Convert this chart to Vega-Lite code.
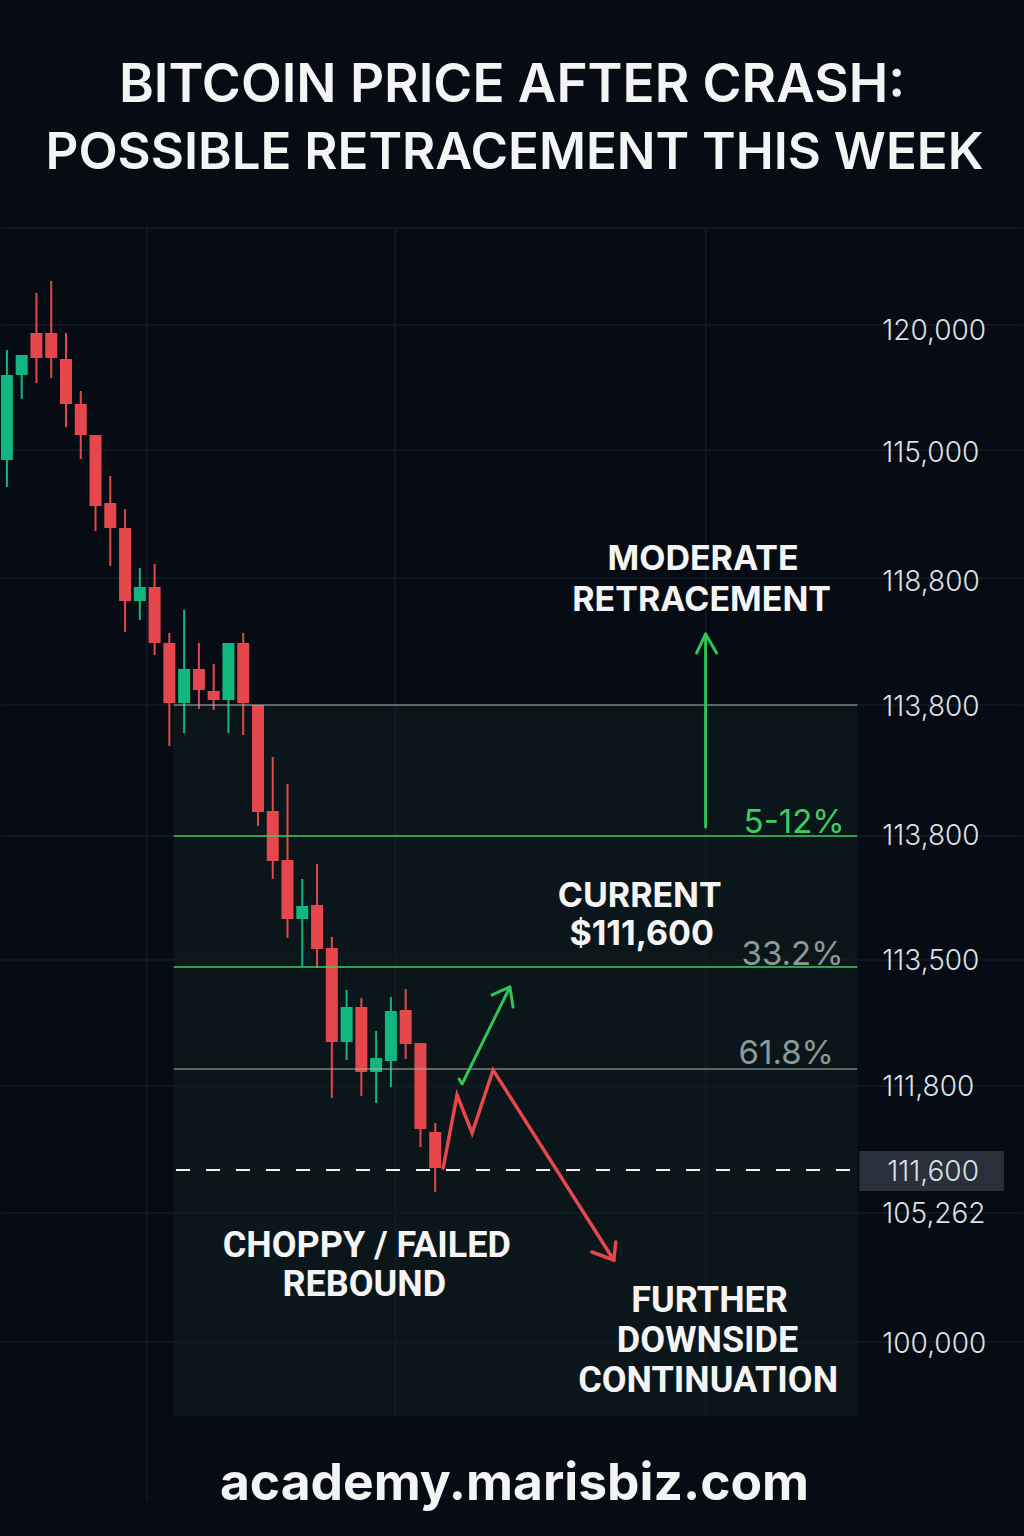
{
  "$schema": "https://vega.github.io/schema/vega-lite/v6.json",
  "width": 1024,
  "height": 1536,
  "autosize": {"type": "fit", "contains": "padding"},
  "padding": 0,
  "background": "#070b13",
  "config": {"view": {"stroke": null}, "axis": {"disable": true}, "scale": {"continuousPadding": 0}},
  "datasets": {
    "candles": [
      {"i": 0, "o": 117415, "h": 119588, "l": 116882, "c": 119094, "d": "up"},
      {"i": 1, "o": 119094, "h": 119489, "l": 118620, "c": 119489, "d": "up"},
      {"i": 2, "o": 119923, "h": 120713, "l": 118936, "c": 119430, "d": "down"},
      {"i": 3, "o": 119923, "h": 120950, "l": 119035, "c": 119430, "d": "down"},
      {"i": 4, "o": 119410, "h": 119923, "l": 118067, "c": 118521, "d": "down"},
      {"i": 5, "o": 118521, "h": 118778, "l": 117435, "c": 117909, "d": "down"},
      {"i": 6, "o": 117909, "h": 117909, "l": 116013, "c": 116507, "d": "down"},
      {"i": 7, "o": 116566, "h": 117099, "l": 115322, "c": 116072, "d": "down"},
      {"i": 8, "o": 116072, "h": 116447, "l": 114018, "c": 114630, "d": "down"},
      {"i": 9, "o": 114630, "h": 115282, "l": 114255, "c": 114907, "d": "up"},
      {"i": 10, "o": 114907, "h": 115361, "l": 113564, "c": 113801, "d": "down"},
      {"i": 11, "o": 113801, "h": 113998, "l": 111767, "c": 112616, "d": "down"},
      {"i": 12, "o": 112616, "h": 114453, "l": 112023, "c": 113287, "d": "up"},
      {"i": 13, "o": 113287, "h": 113801, "l": 112497, "c": 112873, "d": "down"},
      {"i": 14, "o": 112853, "h": 113386, "l": 112478, "c": 112675, "d": "down"},
      {"i": 15, "o": 112675, "h": 113801, "l": 112023, "c": 113801, "d": "up"},
      {"i": 16, "o": 113801, "h": 113998, "l": 111984, "c": 112616, "d": "down"},
      {"i": 17, "o": 112576, "h": 112576, "l": 110187, "c": 110463, "d": "down"},
      {"i": 18, "o": 110483, "h": 111549, "l": 109140, "c": 109495, "d": "down"},
      {"i": 19, "o": 109515, "h": 111016, "l": 107975, "c": 108350, "d": "down"},
      {"i": 20, "o": 108350, "h": 109140, "l": 107422, "c": 108607, "d": "up"},
      {"i": 21, "o": 108626, "h": 109436, "l": 107382, "c": 107757, "d": "down"},
      {"i": 22, "o": 107777, "h": 107994, "l": 104815, "c": 105921, "d": "down"},
      {"i": 23, "o": 105921, "h": 106948, "l": 105565, "c": 106612, "d": "up"},
      {"i": 24, "o": 106612, "h": 106790, "l": 104854, "c": 105328, "d": "down"},
      {"i": 25, "o": 105328, "h": 106138, "l": 104716, "c": 105605, "d": "up"},
      {"i": 26, "o": 105545, "h": 106809, "l": 105032, "c": 106533, "d": "up"},
      {"i": 27, "o": 106553, "h": 106967, "l": 105585, "c": 105881, "d": "down"},
      {"i": 28, "o": 105901, "h": 105901, "l": 103847, "c": 104202, "d": "down"},
      {"i": 29, "o": 104143, "h": 104321, "l": 102958, "c": 103432, "d": "down"}
    ],
    "panel": [{"x1": 11.29, "x2": 57.58, "y1": 112576, "y2": 98534}],
    "hgrid": [{"y": 121997}, {"y": 120081}, {"y": 117613}, {"y": 115085}, {"y": 112576}, {"y": 109989}, {"y": 107540}, {"y": 105052}, {"y": 102543}, {"y": 99996}],
    "vgrid": [{"x": 9.47, "y1": 121997, "y2": 96875}, {"x": 26.29, "y1": 121997, "y2": 98534}, {"x": 47.31, "y1": 121997, "y2": 98534}],
    "grayLevels": [{"x1": 11.29, "x2": 57.58, "y": 112576}, {"x1": 11.29, "x2": 57.58, "y": 105387}],
    "greenLevels": [{"x1": 11.29, "x2": 57.58, "y": 109989}, {"x1": 11.29, "x2": 57.58, "y": 107402}],
    "current": [{"x1": 11.45, "x2": 57.2, "y": 103393}],
    "greenArrows": [
      {"p": "shaft", "s": 0, "x": 47.31, "y": 110167},
      {"p": "shaft", "s": 1, "x": 47.31, "y": 113979},
      {"p": "head", "s": 0, "x": 46.70, "y": 113603},
      {"p": "head", "s": 1, "x": 47.31, "y": 113979},
      {"p": "head", "s": 2, "x": 48.05, "y": 113603},
      {"p": "diag", "s": 0, "x": 30.62, "y": 105190},
      {"p": "diag", "s": 1, "x": 30.82, "y": 105091},
      {"p": "diag", "s": 2, "x": 34.06, "y": 107007},
      {"p": "diaghead", "s": 0, "x": 32.85, "y": 106849},
      {"p": "diaghead", "s": 1, "x": 34.06, "y": 107007},
      {"p": "diaghead", "s": 2, "x": 34.27, "y": 106612}
    ],
    "redArrow": [
      {"p": "zig", "s": 0, "x": 29.54, "y": 103432},
      {"p": "zig", "s": 1, "x": 30.48, "y": 104874},
      {"p": "zig", "s": 2, "x": 31.50, "y": 104123},
      {"p": "zig", "s": 3, "x": 32.92, "y": 105368},
      {"p": "zig", "s": 4, "x": 41.09, "y": 101615},
      {"p": "head", "s": 0, "x": 39.61, "y": 101773},
      {"p": "head", "s": 1, "x": 41.09, "y": 101615},
      {"p": "head", "s": 2, "x": 41.23, "y": 101971}
    ],
    "priceBox": [{"x1": 57.72, "x2": 67.51, "y1": 103768, "y2": 102978}],
    "yLabels": [
      {"t": "120,000", "x": 59.27, "y": 119785},
      {"t": "115,000", "x": 59.27, "y": 117376},
      {"t": "118,800", "x": 59.27, "y": 114828},
      {"t": "113,800", "x": 59.27, "y": 112359},
      {"t": "113,800", "x": 59.27, "y": 109811},
      {"t": "113,500", "x": 59.27, "y": 107343},
      {"t": "111,800", "x": 59.27, "y": 104854},
      {"t": "111,600", "x": 59.61, "y": 103175},
      {"t": "105,262", "x": 59.27, "y": 102346},
      {"t": "100,000", "x": 59.27, "y": 99778}
    ],
    "title1": [{"t": "BITCOIN PRICE AFTER CRASH:", "x": 34.20, "y": 124486}],
    "title2": [{"t": "POSSIBLE RETRACEMENT THIS WEEK", "x": 34.37, "y": 123162}],
    "notesA": [
      {"t": "MODERATE", "x": 47.14, "y": 115243},
      {"t": "RETRACEMENT", "x": 47.04, "y": 114433},
      {"t": "CURRENT", "x": 42.85, "y": 108587},
      {"t": "$111,600", "x": 42.98, "y": 107836}
    ],
    "notesB": [
      {"t": "CHOPPY / FAILED", "x": 24.37, "y": 101674},
      {"t": "REBOUND", "x": 24.20, "y": 100904},
      {"t": "FURTHER", "x": 47.58, "y": 100588},
      {"t": "DOWNSIDE", "x": 47.44, "y": 99798},
      {"t": "CONTINUATION", "x": 47.48, "y": 99008}
    ],
    "greenPct": [{"t": "5-12%", "x": 49.88, "y": 110048}],
    "grayPct": [{"t": "33.2%", "x": 49.74, "y": 107441}, {"t": "61.8%", "x": 49.54, "y": 105486}],
    "footer": [{"t": "academy.marisbiz.com", "x": 34.37, "y": 96875}]
  },
  "layer": [
    {
      "data": {"name": "panel"},
      "mark": {"type": "rect", "fill": "#0b161a"},
      "encoding": {
        "x": {"field": "x1", "type": "quantitative", "scale": {"domain": [-0.4, 68.8], "nice": false, "zero": false, "padding": 0}, "axis": null},
        "x2": {"field": "x2"},
        "y": {"field": "y1", "type": "quantitative", "scale": {"domain": [96164, 126500], "nice": false, "zero": false, "padding": 0}, "axis": null},
        "y2": {"field": "y2"}
      }
    },
    {
      "data": {"name": "hgrid"},
      "mark": {"type": "rule", "color": "#131c26", "strokeWidth": 1.5},
      "encoding": {
        "y": {"field": "y", "type": "quantitative", "scale": {"domain": [96164, 126500], "nice": false, "zero": false, "padding": 0}, "axis": null}
      }
    },
    {
      "data": {"name": "vgrid"},
      "mark": {"type": "rule", "color": "#131c26", "strokeWidth": 1.5},
      "encoding": {
        "x": {"field": "x", "type": "quantitative", "scale": {"domain": [-0.4, 68.8], "nice": false, "zero": false, "padding": 0}, "axis": null},
        "y": {"field": "y1", "type": "quantitative", "scale": {"domain": [96164, 126500], "nice": false, "zero": false, "padding": 0}, "axis": null},
        "y2": {"field": "y2"}
      }
    },
    {
      "data": {"name": "candles"},
      "mark": {"type": "rule", "strokeWidth": 2},
      "encoding": {
        "x": {"field": "i", "type": "quantitative", "scale": {"domain": [-0.4, 68.8], "nice": false, "zero": false, "padding": 0}, "axis": null},
        "y": {"field": "l", "type": "quantitative", "scale": {"domain": [96164, 126500], "nice": false, "zero": false, "padding": 0}, "axis": null},
        "y2": {"field": "h"},
        "color": {"field": "d", "type": "nominal", "scale": {"domain": ["up", "down"], "range": ["#12b77f", "#e5474c"]}, "legend": null}
      }
    },
    {
      "data": {"name": "candles"},
      "mark": {"type": "bar", "size": 12},
      "encoding": {
        "x": {"field": "i", "type": "quantitative", "scale": {"domain": [-0.4, 68.8], "nice": false, "zero": false, "padding": 0}, "axis": null},
        "y": {"field": "o", "type": "quantitative", "scale": {"domain": [96164, 126500], "nice": false, "zero": false, "padding": 0}, "axis": null},
        "y2": {"field": "c"},
        "color": {"field": "d", "type": "nominal", "scale": {"domain": ["up", "down"], "range": ["#12b77f", "#e5474c"]}, "legend": null}
      }
    },
    {
      "data": {"name": "grayLevels"},
      "mark": {"type": "rule", "color": "#aab4b0", "strokeWidth": 1.2},
      "encoding": {
        "x": {"field": "x1", "type": "quantitative", "scale": {"domain": [-0.4, 68.8], "nice": false, "zero": false, "padding": 0}, "axis": null},
        "x2": {"field": "x2"},
        "y": {"field": "y", "type": "quantitative", "scale": {"domain": [96164, 126500], "nice": false, "zero": false, "padding": 0}, "axis": null}
      }
    },
    {
      "data": {"name": "greenLevels"},
      "mark": {"type": "rule", "color": "#3dcc5f", "strokeWidth": 1.5},
      "encoding": {
        "x": {"field": "x1", "type": "quantitative", "scale": {"domain": [-0.4, 68.8], "nice": false, "zero": false, "padding": 0}, "axis": null},
        "x2": {"field": "x2"},
        "y": {"field": "y", "type": "quantitative", "scale": {"domain": [96164, 126500], "nice": false, "zero": false, "padding": 0}, "axis": null}
      }
    },
    {
      "data": {"name": "current"},
      "mark": {"type": "rule", "color": "#f2f2f2", "strokeWidth": 2, "strokeDash": [14, 16]},
      "encoding": {
        "x": {"field": "x1", "type": "quantitative", "scale": {"domain": [-0.4, 68.8], "nice": false, "zero": false, "padding": 0}, "axis": null},
        "x2": {"field": "x2"},
        "y": {"field": "y", "type": "quantitative", "scale": {"domain": [96164, 126500], "nice": false, "zero": false, "padding": 0}, "axis": null}
      }
    },
    {
      "data": {"name": "greenArrows"},
      "mark": {"type": "line", "color": "#2ec45a", "strokeWidth": 3, "strokeCap": "round", "strokeJoin": "round"},
      "encoding": {
        "x": {"field": "x", "type": "quantitative", "scale": {"domain": [-0.4, 68.8], "nice": false, "zero": false, "padding": 0}, "axis": null},
        "y": {"field": "y", "type": "quantitative", "scale": {"domain": [96164, 126500], "nice": false, "zero": false, "padding": 0}, "axis": null},
        "detail": {"field": "p"},
        "order": {"field": "s", "type": "quantitative"}
      }
    },
    {
      "data": {"name": "redArrow"},
      "mark": {"type": "line", "color": "#e5474c", "strokeWidth": 3.5, "strokeCap": "round", "strokeJoin": "miter"},
      "encoding": {
        "x": {"field": "x", "type": "quantitative", "scale": {"domain": [-0.4, 68.8], "nice": false, "zero": false, "padding": 0}, "axis": null},
        "y": {"field": "y", "type": "quantitative", "scale": {"domain": [96164, 126500], "nice": false, "zero": false, "padding": 0}, "axis": null},
        "detail": {"field": "p"},
        "order": {"field": "s", "type": "quantitative"}
      }
    },
    {
      "data": {"name": "priceBox"},
      "mark": {"type": "rect", "fill": "#2a303b"},
      "encoding": {
        "x": {"field": "x1", "type": "quantitative", "scale": {"domain": [-0.4, 68.8], "nice": false, "zero": false, "padding": 0}, "axis": null},
        "x2": {"field": "x2"},
        "y": {"field": "y1", "type": "quantitative", "scale": {"domain": [96164, 126500], "nice": false, "zero": false, "padding": 0}, "axis": null},
        "y2": {"field": "y2"}
      }
    },
    {
      "data": {"name": "yLabels"},
      "mark": {"type": "text", "align": "left", "baseline": "alphabetic", "font": "Inter", "fontSize": 28, "fontWeight": 300, "color": "#dde1e4"},
      "encoding": {
        "x": {"field": "x", "type": "quantitative", "scale": {"domain": [-0.4, 68.8], "nice": false, "zero": false, "padding": 0}, "axis": null},
        "y": {"field": "y", "type": "quantitative", "scale": {"domain": [96164, 126500], "nice": false, "zero": false, "padding": 0}, "axis": null},
        "text": {"field": "t"}
      }
    },
    {
      "data": {"name": "title1"},
      "mark": {"type": "text", "align": "center", "baseline": "alphabetic", "font": "Inter", "fontSize": 53, "fontWeight": 600, "color": "#f4f4f4"},
      "encoding": {
        "x": {"field": "x", "type": "quantitative", "scale": {"domain": [-0.4, 68.8], "nice": false, "zero": false, "padding": 0}, "axis": null},
        "y": {"field": "y", "type": "quantitative", "scale": {"domain": [96164, 126500], "nice": false, "zero": false, "padding": 0}, "axis": null},
        "text": {"field": "t"}
      }
    },
    {
      "data": {"name": "title2"},
      "mark": {"type": "text", "align": "center", "baseline": "alphabetic", "font": "Inter", "fontSize": 51, "fontWeight": 600, "color": "#f4f4f4"},
      "encoding": {
        "x": {"field": "x", "type": "quantitative", "scale": {"domain": [-0.4, 68.8], "nice": false, "zero": false, "padding": 0}, "axis": null},
        "y": {"field": "y", "type": "quantitative", "scale": {"domain": [96164, 126500], "nice": false, "zero": false, "padding": 0}, "axis": null},
        "text": {"field": "t"}
      }
    },
    {
      "data": {"name": "notesA"},
      "mark": {"type": "text", "align": "center", "baseline": "alphabetic", "font": "Inter", "fontSize": 34, "fontWeight": 700, "color": "#f4f4f4"},
      "encoding": {
        "x": {"field": "x", "type": "quantitative", "scale": {"domain": [-0.4, 68.8], "nice": false, "zero": false, "padding": 0}, "axis": null},
        "y": {"field": "y", "type": "quantitative", "scale": {"domain": [96164, 126500], "nice": false, "zero": false, "padding": 0}, "axis": null},
        "text": {"field": "t"}
      }
    },
    {
      "data": {"name": "notesB"},
      "mark": {"type": "text", "align": "center", "baseline": "alphabetic", "font": "Roboto", "fontSize": 36, "fontWeight": 700, "color": "#f4f4f4"},
      "encoding": {
        "x": {"field": "x", "type": "quantitative", "scale": {"domain": [-0.4, 68.8], "nice": false, "zero": false, "padding": 0}, "axis": null},
        "y": {"field": "y", "type": "quantitative", "scale": {"domain": [96164, 126500], "nice": false, "zero": false, "padding": 0}, "axis": null},
        "text": {"field": "t"}
      }
    },
    {
      "data": {"name": "greenPct"},
      "mark": {"type": "text", "align": "left", "baseline": "alphabetic", "font": "Inter", "fontSize": 33, "fontWeight": 400, "color": "#3dcc5f"},
      "encoding": {
        "x": {"field": "x", "type": "quantitative", "scale": {"domain": [-0.4, 68.8], "nice": false, "zero": false, "padding": 0}, "axis": null},
        "y": {"field": "y", "type": "quantitative", "scale": {"domain": [96164, 126500], "nice": false, "zero": false, "padding": 0}, "axis": null},
        "text": {"field": "t"}
      }
    },
    {
      "data": {"name": "grayPct"},
      "mark": {"type": "text", "align": "left", "baseline": "alphabetic", "font": "Inter", "fontSize": 33, "fontWeight": 400, "color": "#8a9a99"},
      "encoding": {
        "x": {"field": "x", "type": "quantitative", "scale": {"domain": [-0.4, 68.8], "nice": false, "zero": false, "padding": 0}, "axis": null},
        "y": {"field": "y", "type": "quantitative", "scale": {"domain": [96164, 126500], "nice": false, "zero": false, "padding": 0}, "axis": null},
        "text": {"field": "t"}
      }
    },
    {
      "data": {"name": "footer"},
      "mark": {"type": "text", "align": "center", "baseline": "alphabetic", "font": "Inter", "fontSize": 51.5, "fontWeight": 700, "color": "#f4f4f4"},
      "encoding": {
        "x": {"field": "x", "type": "quantitative", "scale": {"domain": [-0.4, 68.8], "nice": false, "zero": false, "padding": 0}, "axis": null},
        "y": {"field": "y", "type": "quantitative", "scale": {"domain": [96164, 126500], "nice": false, "zero": false, "padding": 0}, "axis": null},
        "text": {"field": "t"}
      }
    }
  ]
}
